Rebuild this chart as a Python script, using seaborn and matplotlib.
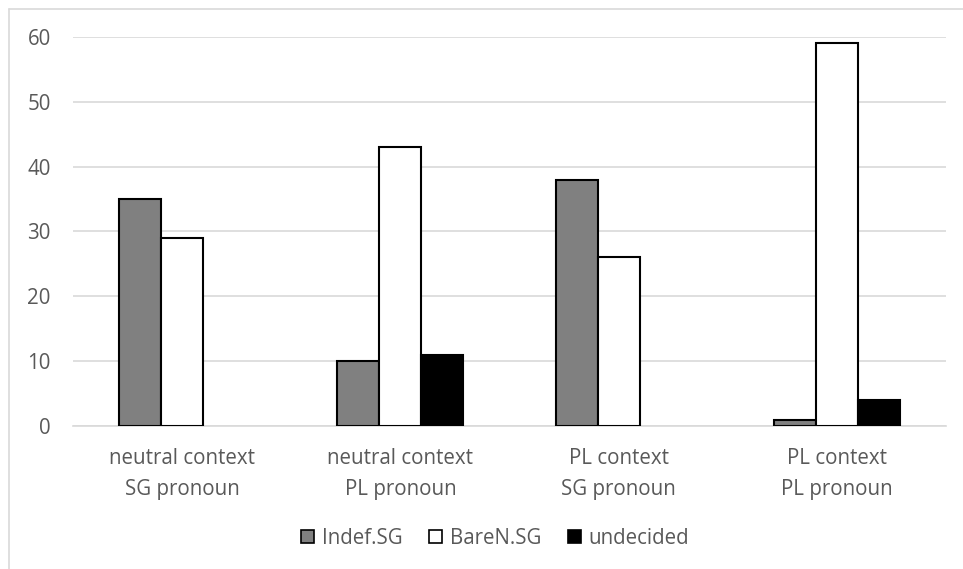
import matplotlib
matplotlib.use("Agg")
import matplotlib.pyplot as plt
from matplotlib.lines import Line2D
from matplotlib.patches import Patch
import pandas as pd
import seaborn as sns

categories = ["neutral context\nSG pronoun", "neutral context\nPL pronoun",
              "PL context\nSG pronoun", "PL context\nPL pronoun"]
series_names = ["Indef.SG", "BareN.SG", "undecided"]
indef_sg = [35, 10, 38, 1]
baren_sg = [29, 43, 26, 59]
undecided = [0, 11, 0, 4]
y_ticks = [0, 10, 20, 30, 40, 50, 60]

colors = {"Indef.SG": "#808080", "BareN.SG": "#ffffff", "undecided": "#000000"}

df = pd.DataFrame({
    "category": categories * 3,
    "series": [s for s in series_names for _ in categories],
    "value": indef_sg + baren_sg + undecided,
})

sns.set_theme(style="white")
plt.rcParams["font.family"] = ["Open Sans", "DejaVu Sans"]
text_color = "#595959"
fs = 14.8

fig = plt.figure(figsize=(9.63, 5.69), dpi=100)
ax = fig.add_axes([0.0758, 0.2513, 0.9065, 0.6837])

sns.barplot(data=df, x="category", y="value", hue="series",
            hue_order=series_names, order=categories, palette=colors,
            width=0.577, gap=0, edgecolor="black", linewidth=1.5,
            legend=False, ax=ax, zorder=3)

# empty bars leave no outline on the baseline
for bar in ax.patches:
    if bar.get_height() == 0:
        bar.set_linewidth(0)

ax.set_ylim(0, 60)
ax.set_xlim(-0.5, len(categories) - 0.5)
ax.set_yticks(y_ticks)
ax.set_yticklabels([str(t) for t in y_ticks], fontsize=fs, color=text_color)
ax.set_xticks(range(len(categories)))
ax.set_xticklabels(categories, fontsize=fs, color=text_color, linespacing=1.6)
ax.tick_params(axis="both", length=0)
ax.tick_params(axis="y", pad=16)
ax.tick_params(axis="x", pad=16)
ax.set_xlabel("")
ax.set_ylabel("")
ax.yaxis.grid(True, color="#d9d9d9", linewidth=1.2, zorder=0)
ax.set_axisbelow(True)
for side in ["top", "right", "left"]:
    ax.spines[side].set_visible(False)
ax.spines["bottom"].set_color("#d9d9d9")
ax.spines["bottom"].set_linewidth(1.2)

handles = [Patch(facecolor=colors[s], edgecolor="black", linewidth=1.2, label=s)
           for s in series_names]
leg = fig.legend(handles=handles, loc="center", bbox_to_anchor=(0.514, 0.054),
                 ncol=3, frameon=False, fontsize=fs, handlelength=0.65,
                 handleheight=0.65, handletextpad=0.35, columnspacing=1.3)
for t in leg.get_texts():
    t.set_color(text_color)

# chart area border (top and left edges)
fig.add_artist(Line2D([8.5 / 963, 1.0], [1 - 8.5 / 569] * 2,
                      transform=fig.transFigure, color="#d9d9d9", linewidth=1.2))
fig.add_artist(Line2D([8.5 / 963] * 2, [0.0, 1 - 8.5 / 569],
                      transform=fig.transFigure, color="#d9d9d9", linewidth=1.2))

fig.savefig("out.png", dpi=100, facecolor="white")
